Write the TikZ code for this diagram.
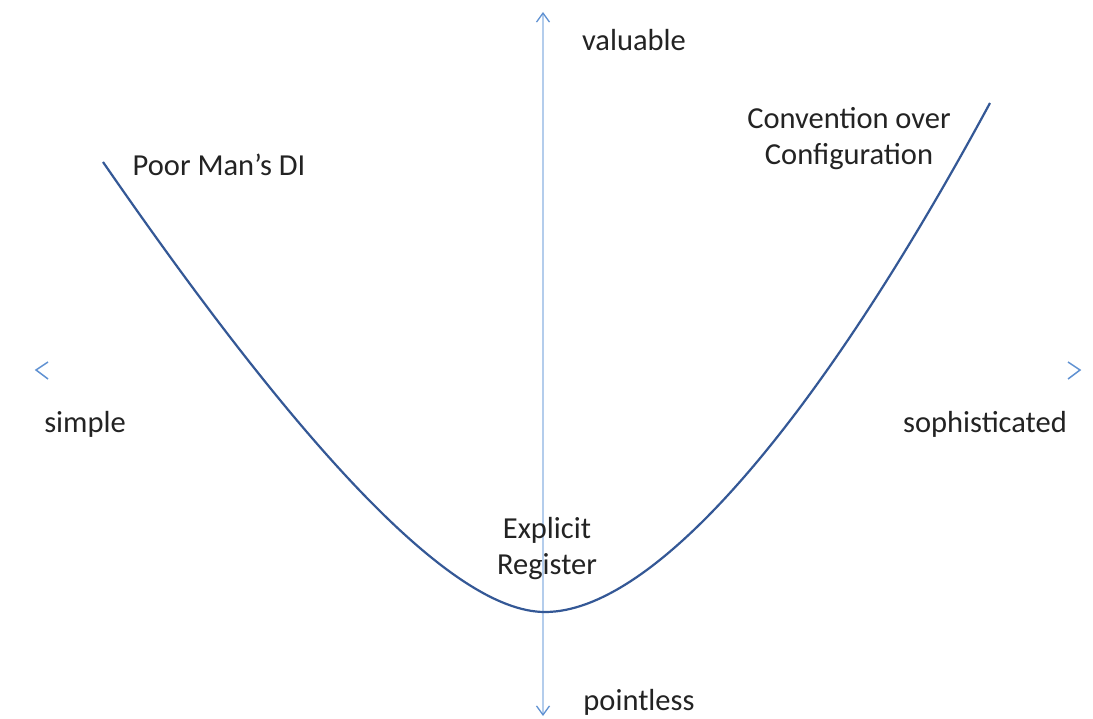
\documentclass[tikz,border=0pt]{standalone}
\usepackage{fontspec}
\setmainfont{Carlito}
\usetikzlibrary{arrows.meta}
\definecolor{axisblue}{RGB}{180,205,236}
\definecolor{tipblue}{RGB}{95,145,210}
\definecolor{curveblue}{RGB}{52,88,150}
\definecolor{txt}{RGB}{35,35,35}
\tikzset{
  lbl/.style={text=txt, font=\fontsize{30.5}{36}\selectfont, inner sep=0pt, align=center},
  axisline/.style={draw=axisblue, line width=1.3pt,
    {Straight Barb[color=tipblue,length=9pt,width=13pt,line width=1.3pt]}-{Straight Barb[color=tipblue,length=9pt,width=13pt,line width=1.3pt]}},
  chev/.style={draw=tipblue, line width=1.5pt},
  curve/.style={draw=curveblue, line width=2.2pt}
}
\begin{document}
\begin{tikzpicture}[x=1pt,y=-1pt]
\useasboundingbox (0,0) rectangle (1093,719);
\fill[white] (0,0) rectangle (1093,719);
% axes
\coordinate (vtop) at (543,12);
\coordinate (vbot) at (543,716);
\draw[axisline] (vbot) -- (vtop);
\coordinate (hl) at (36,370);
\coordinate (hr) at (1080,370);
\draw[chev] ([shift={(12,-8)}]hl) -- (hl) -- ([shift={(12,9)}]hl);
\draw[chev] ([shift={(-12,-8)}]hr) -- (hr) -- ([shift={(-12,9)}]hr);
% curve
\coordinate (cl) at (103,162);
\coordinate (cb) at (545,612);
\coordinate (cr) at (990,103);
\draw[curve] (cl) .. controls (295,440) and (450,612) .. (cb)
             .. controls (650,612) and (810,436) .. (cr);
% labels
\node[lbl] (valuable) at (634,40) {valuable};
\node[lbl] (pointless) at (639,702) {pointless};
\node[lbl] (simple) at (85,424) {simple};
\node[lbl] (soph) at (985,424) {sophisticated};
\node[lbl] (explicit) at (547,549) {Explicit\\Register};
\node[lbl] (poor) at (219,165) {Poor Man’s DI};
\node[lbl] (conv) at (849,139) {Convention over\\Configuration};
\end{tikzpicture}
\end{document}
